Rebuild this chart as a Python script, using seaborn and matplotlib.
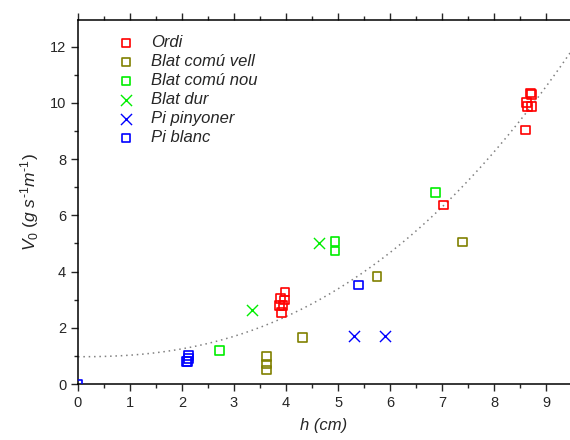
import numpy as np
import pandas as pd
import matplotlib
matplotlib.use("Agg")
import matplotlib.pyplot as plt
from matplotlib.ticker import MultipleLocator
import seaborn as sns

# dades llegides del gràfic
ordi_h = [8.70, 8.72, 8.63, 8.65, 8.72, 8.61, 7.03, 3.98, 3.97, 3.90, 3.88, 3.94, 3.92]
ordi_v = [10.35, 10.30, 10.01, 9.88, 9.87, 9.04, 6.37, 3.27, 2.99, 3.05, 2.79, 2.80, 2.53]
vell_h = [3.62, 3.62, 3.62, 4.32, 5.75, 7.40]
vell_v = [0.97, 0.71, 0.50, 1.65, 3.83, 5.05]
nou_h = [2.72, 4.94, 4.94, 6.87]
nou_v = [1.18, 4.73, 5.06, 6.82]
dur_h = [3.35, 4.63]
dur_v = [2.62, 5.00]
pinyoner_h = [5.30, 5.90]
pinyoner_v = [1.71, 1.71]
blanc_h = [0.0, 2.12, 2.10, 2.13, 2.08, 5.40]
blanc_v = [0.0, 1.00, 0.80, 0.92, 0.80, 3.52]

# corba d'ajust V0 = a + b*h^n
fit_a, fit_b, fit_n = 0.97, 0.055, 2.35

grups = [
    ("Ordi", ordi_h, ordi_v, "s", "#ff0000"),
    ("Blat comú vell", vell_h, vell_v, "s", "#808000"),
    ("Blat comú nou", nou_h, nou_v, "s", "#00ee00"),
    ("Blat dur", dur_h, dur_v, "x", "#00ee00"),
    ("Pi pinyoner", pinyoner_h, pinyoner_v, "x", "#0000ff"),
    ("Pi blanc", blanc_h, blanc_v, "s", "#0000ff"),
]

sns.set_style("ticks")
plt.rcParams["font.family"] = ["Liberation Sans", "DejaVu Sans"]
plt.rcParams["mathtext.fontset"] = "custom"
plt.rcParams["mathtext.rm"] = "Liberation Sans"
plt.rcParams["mathtext.it"] = "Liberation Sans:italic"

fig = plt.figure(figsize=(5.7, 4.4), dpi=100)
ax = fig.add_axes([78 / 570, 56 / 440, 1 - 78 / 570, 364 / 440])

hh = np.linspace(0, 9.5, 200)
sns.lineplot(x=hh, y=fit_a + fit_b * hh ** fit_n, ax=ax, color="#808080",
             linestyle=(0, (1, 2.5)), linewidth=1.1)

handles = []
for nom, h, v, m, c in grups:
    if m == "s":
        sc = ax.scatter(h, v, marker="s", s=40, facecolor="none",
                        edgecolor=c, linewidth=1.2, label=nom, zorder=3)
    else:
        sc = ax.scatter(h, v, marker="x", s=64, color=c,
                        linewidth=1.0, label=nom, zorder=3)
    handles.append(sc)

ax.set_xlim(0, 9.46)
ax.set_ylim(0, 12.95)
ax.xaxis.set_major_locator(MultipleLocator(1))
ax.xaxis.set_minor_locator(MultipleLocator(0.5))
ax.yaxis.set_major_locator(MultipleLocator(2))
ax.yaxis.set_minor_locator(MultipleLocator(1))
ax.tick_params(which="major", length=5, width=1, labelsize=10.5, direction="out")
ax.tick_params(which="minor", length=3, width=1, direction="out")
ax.tick_params(axis="x", top=True, which="both")
for s in ["left", "bottom", "top"]:
    ax.spines[s].set_linewidth(1.1)
    ax.spines[s].set_color("black")
ax.spines["right"].set_visible(False)

ax.set_xlabel("h (cm)", fontsize=12, style="italic", labelpad=6)
ax.set_ylabel(r"$V_0\ (g\ s^{\text{-}1}m^{\text{-}1})$", fontsize=12.5, labelpad=6)

leg = ax.legend(handles=handles, loc="upper left", bbox_to_anchor=(0.04, 0.99),
                frameon=False, fontsize=12, handletextpad=0.5,
                labelspacing=0.24, borderaxespad=0.3)
for t in leg.get_texts():
    t.set_style("italic")

fig.savefig("out.png", dpi=100)
